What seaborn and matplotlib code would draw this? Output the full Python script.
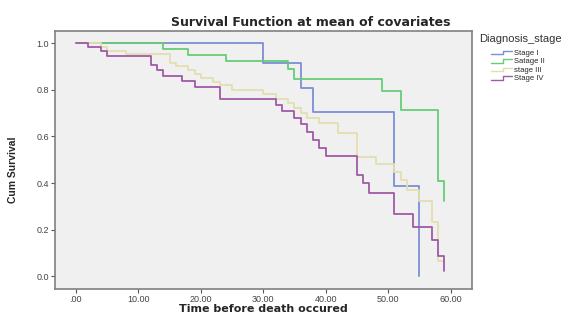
import pandas as pd
import numpy as np
import matplotlib
matplotlib.use("Agg")
import matplotlib.pyplot as plt
from matplotlib.lines import Line2D
from matplotlib.legend_handler import HandlerBase
import seaborn as sns

# Kaplan-Meier style step values (time, cumulative survival)
stage1_t = [0, 30, 36, 38, 51, 55]
stage1_s = [1.0, 0.915, 0.808, 0.703, 0.387, 0.0]

stage2_t = [0, 14, 18, 24, 34, 35, 49, 52, 58, 59]
stage2_s = [1.0, 0.976, 0.950, 0.924, 0.887, 0.847, 0.795, 0.712, 0.409, 0.325]

stage3_t = [0, 4, 5, 8, 15, 16, 18, 19, 20, 22, 23, 25, 30, 32, 34, 35, 36, 37,
            39, 42, 45, 48, 51, 52, 53, 55, 57, 58, 59]
stage3_s = [1.0, 0.983, 0.966, 0.952, 0.915, 0.901, 0.884, 0.866, 0.851, 0.834,
            0.819, 0.799, 0.782, 0.762, 0.743, 0.720, 0.699, 0.679, 0.658, 0.614,
            0.513, 0.483, 0.448, 0.413, 0.370, 0.324, 0.233, 0.065, 0.065]

stage4_t = [0, 2, 4, 5, 12, 13, 14, 17, 19, 23, 32, 33, 35, 36, 37, 38, 39, 40,
            45, 46, 47, 51, 54, 57, 58, 59]
stage4_s = [1.0, 0.983, 0.964, 0.946, 0.906, 0.883, 0.861, 0.837, 0.813, 0.759,
            0.735, 0.707, 0.680, 0.653, 0.618, 0.583, 0.550, 0.515, 0.434, 0.400,
            0.356, 0.267, 0.211, 0.154, 0.088, 0.024]

stages = ["Stage I", "Satage II", "stage III", "Stage IV"]
x_ticks = [0, 10, 20, 30, 40, 50, 60]
x_ticklabels = [".00", "10.00", "20.00", "30.00", "40.00", "50.00", "60.00"]
y_ticks = [0.0, 0.2, 0.4, 0.6, 0.8, 1.0]
y_ticklabels = ["0.0", "0.2", "0.4", "0.6", "0.8", "1.0"]

PALETTE = {"Stage I": "#7b8fd6", "Satage II": "#66cc77",
           "stage III": "#e3dfb0", "Stage IV": "#a05aa6"}


class StepHandler(HandlerBase):
    # SPSS-like little step glyph in the legend
    def create_artists(self, legend, orig_handle, xdescent, ydescent,
                       width, height, fontsize, trans):
        xs = np.array([0, 0.55, 0.55, 1.0]) * width - xdescent
        ys = np.array([0.15, 0.15, 0.75, 0.75]) * height - ydescent
        line = Line2D(xs, ys, color=orig_handle.get_color(), lw=1.0,
                      transform=trans)
        return [line]


frames = []
for name, t, s in zip(stages, [stage1_t, stage2_t, stage3_t, stage4_t],
                      [stage1_s, stage2_s, stage3_s, stage4_s]):
    frames.append(pd.DataFrame({"time": t, "surv": s, "stage": name}))
df = pd.concat(frames, ignore_index=True)

sns.set_style("white")
plt.rcParams["font.family"] = ["Liberation Sans", "DejaVu Sans"]

fig = plt.figure(figsize=(5.76, 3.2), dpi=100)
ax = fig.add_axes([0.096, 0.097, 0.723, 0.807])
ax.set_facecolor("#f0f0f0")

sns.lineplot(data=df, x="time", y="surv", hue="stage", hue_order=stages,
             palette=PALETTE, estimator=None, sort=False, units="stage",
             drawstyle="steps-post", linewidth=1.3, ax=ax, legend=False)

ax.set_xlim(-3.3, 63.4)
ax.set_ylim(-0.054, 1.053)
ax.set_xticks(x_ticks)
ax.set_xticklabels(x_ticklabels)
ax.set_yticks(y_ticks)
ax.set_yticklabels(y_ticklabels)
ax.tick_params(axis="both", direction="out", length=3, width=0.8,
               color="#555555", labelcolor="#444444", labelsize=6.5, pad=1.5)
ax.tick_params(axis="x", bottom=True)
ax.tick_params(axis="y", left=True)
for sp in ax.spines.values():
    sp.set_color("#808080")
    sp.set_linewidth(1.2)

ax.set_xlabel("Time before death occured", fontsize=8, fontweight="bold",
              family=["DejaVu Sans"])
ax.xaxis.set_label_coords(0.5, -0.06)
ax.set_ylabel("Cum Survival", fontsize=7.5, fontweight="bold")
ax.yaxis.set_label_coords(-0.09, 0.46)

fig.text(0.54, 0.931, "Survival Function at mean of covariates",
         ha="center", va="center", fontsize=9, fontweight="bold",
         family=["DejaVu Sans"])

# legend
fig.text(0.832, 0.878, "Diagnosis_stage", ha="left", va="center",
         fontsize=8, color="#333333")
handles = [Line2D([0], [0], color=PALETTE[s]) for s in stages]
fig.legend(handles, stages, loc="upper left", bbox_to_anchor=(0.852, 0.845),
           frameon=False, fontsize=5.5, labelspacing=0.15, handlelength=2.8,
           handletextpad=0.2, borderpad=0, borderaxespad=0,
           handler_map={Line2D: StepHandler()})

fig.savefig("out.png", dpi=100)
